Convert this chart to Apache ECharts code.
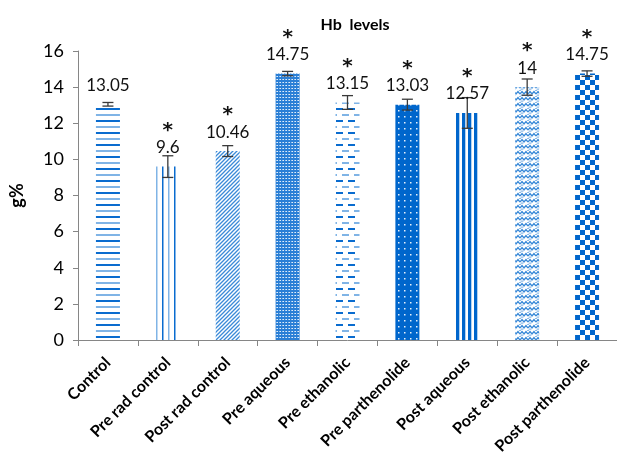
<!DOCTYPE html>
<html>
<head>
<meta charset="utf-8">
<script src="https://cdn.jsdelivr.net/npm/echarts@6/dist/echarts.min.js"></script>
<style>
html,body{margin:0;padding:0;background:#fff;}
#chart{width:617px;height:457px;}
</style>
</head>
<body>
<div id="chart"></div>
<script>
// ---- data ----
const categories = ['Control','Pre rad control','Post rad control','Pre aqueous','Pre ethanolic','Pre parthenolide','Post aqueous','Post ethanolic','Post parthenolide'];
const hbValues = [13.05, 9.6, 10.46, 14.75, 13.15, 13.03, 12.57, 14, 14.75];
const hbErrors = [0.1, 0.6, 0.3, 0.12, 0.38, 0.3, 0.85, 0.45, 0.15];
const significant = [false, true, true, true, true, true, true, true, true];
const yTicks = [0, 2, 4, 6, 8, 10, 12, 14, 16];

// ---- patterns ----
function pat(w, h, draw) {
  const c = document.createElement('canvas');
  c.width = w; c.height = h;
  const ctx = c.getContext('2d');
  draw(ctx);
  return { type: 'pattern', image: c, repeat: 'repeat' };
}
const DARK = '#0a6ccf', MID = '#3a8ad8', LIGHT = '#80b4e6';
const patterns = [
  pat(4, 12, g => { g.fillStyle = DARK; g.fillRect(0, 0, 4, 2); g.fillStyle = LIGHT; g.fillRect(0, 6, 4, 2); }),
  pat(12, 4, g => { g.fillStyle = LIGHT; g.fillRect(0, 0, 1.5, 4); g.fillStyle = DARK; g.fillRect(6, 0, 1.5, 4); }),
  pat(4, 4, g => { g.strokeStyle = MID; g.lineWidth = 1.3; g.beginPath();
    g.moveTo(-1, 5); g.lineTo(5, -1); g.moveTo(3, 5); g.lineTo(5, 3); g.moveTo(-1, 1); g.lineTo(1, -1); g.stroke(); }),
  pat(3, 3, g => { g.fillStyle = '#2a7fd6'; g.fillRect(0, 0, 3, 3); g.fillStyle = '#e2eefa'; g.fillRect(1, 1, 1, 1); g.fillStyle = '#9cc4ec'; g.fillRect(0, 1, 1, 1); }),
  pat(12, 12, g => { g.fillStyle = DARK; g.fillRect(0, 0, 7, 2); g.fillStyle = LIGHT; g.fillRect(6, 6, 6, 2); g.fillRect(0, 6, 1, 2); }),
  pat(6, 6, g => { g.fillStyle = '#0066cc'; g.fillRect(0, 0, 6, 6); g.fillStyle = '#e6f0fa'; g.fillRect(2, 2, 1.5, 1.5); }),
  pat(6, 4, g => { g.fillStyle = '#0066cc'; g.fillRect(0, 0, 3, 4); g.fillStyle = LIGHT; g.fillRect(3, 0, 0.6, 4); }),
  pat(8, 6, g => { g.strokeStyle = MID; g.lineWidth = 1.3; g.beginPath();
    g.moveTo(0, 4); g.lineTo(2, 1.5); g.lineTo(4, 4); g.lineTo(6, 1.5); g.lineTo(8, 4); g.stroke();
    g.strokeStyle = LIGHT; g.lineWidth = 1; g.beginPath(); g.moveTo(0, 1); g.lineTo(2, -1.5); g.moveTo(6, -1.5); g.lineTo(8, 1); g.moveTo(0,7); g.lineTo(2,4.5); g.lineTo(4,7); g.stroke(); }),
  pat(10, 10, g => { g.fillStyle = '#0066cc'; g.fillRect(0, 0, 5, 5); g.fillRect(5, 5, 5, 5); })
];

const FONT = 'Lato, "Open Sans", sans-serif';
const chart = echarts.init(document.getElementById('chart'), null, { renderer: 'canvas' });

const barData = hbValues.map((v, i) => ({ value: v, itemStyle: { color: patterns[i] } }));
const errData = hbValues.map((v, i) => [i, v, hbErrors[i], significant[i] ? 1 : 0]);

chart.setOption({
  animation: false,
  backgroundColor: '#fff',
  title: {
    text: 'Hb  levels', left: 350, top: 12, textAlign: 'center',
    textStyle: { fontFamily: FONT, fontWeight: 'bold', fontSize: 16, color: '#000' }
  },
  grid: { left: 77, right: 0, top: 51, bottom: 117 },
  xAxis: {
    type: 'category', data: categories,
    axisLine: { lineStyle: { color: '#868686', width: 1 } },
    axisTick: { show: true, alignWithLabel: false, length: 6, lineStyle: { color: '#868686' } },
    axisLabel: { rotate: 45, interval: 0, margin: 20, fontFamily: FONT, fontWeight: 'bold', fontSize: 16, color: '#000' }
  },
  yAxis: {
    type: 'value', min: yTicks[0], max: yTicks[yTicks.length - 1], interval: yTicks[1] - yTicks[0],
    name: 'g%', nameLocation: 'middle', nameGap: 52,
    nameTextStyle: { fontFamily: FONT, fontWeight: 'bold', fontSize: 18, color: '#000' },
    axisLine: { show: true, lineStyle: { color: '#868686', width: 1 } },
    axisTick: { show: true, length: 5, lineStyle: { color: '#868686' } },
    splitLine: { show: false },
    axisLabel: { margin: 14, fontFamily: FONT, fontSize: 18, color: '#000' }
  },
  series: [
    {
      type: 'bar', data: barData, barWidth: 24,
      itemStyle: { borderWidth: 0 }
    },
    {
      type: 'custom', data: errData, z: 5, clip: false,
      renderItem: function (params, api) {
        const i = api.value(0), v = api.value(1), e = api.value(2), sig = api.value(3);
        const top = api.coord([i, v + e]);
        const bot = api.coord([i, v - e]);
        const base = api.coord([i, v]);
        const x = top[0];
        const cw = 5.5;
        const ls = { stroke: '#3a3a3a', lineWidth: 1.3 };
        const children = [
          { type: 'line', shape: { x1: x, y1: top[1], x2: x, y2: bot[1] }, style: ls },
          { type: 'line', shape: { x1: x - cw, y1: top[1], x2: x + cw, y2: top[1] }, style: ls },
          { type: 'line', shape: { x1: x - cw, y1: bot[1], x2: x + cw, y2: bot[1] }, style: ls },
          { type: 'text', x: x, y: base[1] - 19, style: { text: String(v), fill: '#111', font: '17px ' + FONT, align: 'center', verticalAlign: 'middle' } }
        ];
        if (sig) {
          children.push({ type: 'text', x: x, y: base[1] - 36, style: { text: '*', fill: '#111', font: 'bold 20px "DejaVu Sans", sans-serif', align: 'center', verticalAlign: 'middle' } });
        }
        return { type: 'group', children: children };
      }
    }
  ]
});
</script>
</body>
</html>
